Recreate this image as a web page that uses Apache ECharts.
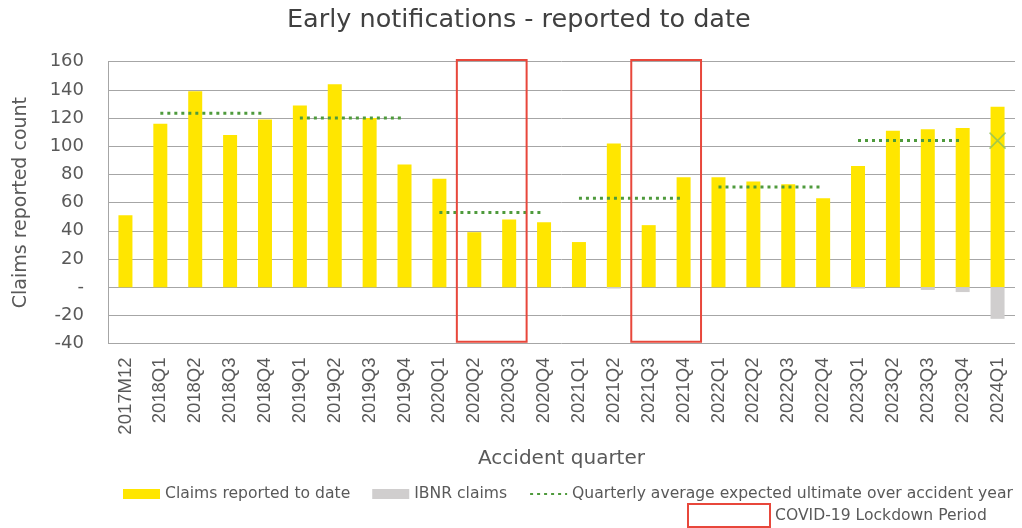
<!DOCTYPE html>
<html>
<head>
<meta charset="utf-8">
<script src="https://cdn.jsdelivr.net/npm/echarts@6/dist/echarts.min.js"></script>
<style>
  html, body { margin: 0; padding: 0; background: #fff; }
  #chart { width: 1022px; height: 528px; }
</style>
</head>
<body>
<div id="chart"></div>
<script>
const quarters = ['2017M12',
  '2018Q1', '2018Q2', '2018Q3', '2018Q4',
  '2019Q1', '2019Q2', '2019Q3', '2019Q4',
  '2020Q1', '2020Q2', '2020Q3', '2020Q4',
  '2021Q1', '2021Q2', '2021Q3', '2021Q4',
  '2022Q1', '2022Q2', '2022Q3', '2022Q4',
  '2023Q1', '2023Q2', '2023Q3', '2023Q4',
  '2024Q1'];
const claimsReported = [51, 116, 139, 108, 119, 129, 144, 120, 87, 77, 39, 48, 46,
  32, 102, 44, 78, 78, 75, 73, 63, 86, 111, 112, 113, 128];
const ibnrClaims = [0, 0, 0, 0, 0, 0, 0, 0, 0, 0, 0, 0, 0,
  0, -1, 0, 0, 0, 0, 0, 0, -1, 0, -2, -3.5, -22.5];
// quarterly average expected ultimate, one value per accident year
const accidentYears = ['2018', '2019', '2020', '2021', '2022', '2023'];
const yearAverages = [123.5, 120, 53, 63, 71, 104];
const latestExpected = ['2024Q1', 104];
const lockdownPeriods = [['2020Q2', '2020Q3'], ['2021Q3', '2021Q4']];
const yTicks = { min: -40, max: 160, step: 20 };

const AVG_NAME = 'Quarterly average expected ultimate over accident year';
const grey = '#595959';

const avgSeries = accidentYears.map((yr, i) => ({
  name: AVG_NAME,
  type: 'line',
  symbol: 'none',
  lineStyle: { color: '#4E9A3C', width: 3, type: [3, 4] },
  itemStyle: { color: '#4E9A3C' },
  data: quarters.filter(q => q.startsWith(yr + 'Q')).map(q => [q, yearAverages[i]]),
  z: 4
}));

const chart = echarts.init(document.getElementById('chart'));
chart.setOption({
  animation: false,
  textStyle: { fontFamily: 'DejaVu Sans' },
  title: {
    text: 'Early notifications - reported to date',
    left: 282, top: 2,
    textStyle: { fontFamily: 'DejaVu Sans', fontSize: 25.5, fontWeight: 'normal', color: '#404040' }
  },
  legend: [{
    data: [{ name: 'Claims reported to date', icon: 'rect' },
      { name: 'IBNR claims', icon: 'rect' },
      { name: AVG_NAME, itemStyle: { opacity: 0 } }],
    left: 118, top: 481, width: 1000,
    itemWidth: 37, itemHeight: 10, itemGap: 22,
    textStyle: { fontFamily: 'DejaVu Sans', fontSize: 15.6, color: grey }
  }, {
    data: [{
      name: 'COVID-19 Lockdown Period', icon: 'rect',
      itemStyle: { color: 'rgba(0,0,0,0)', borderColor: '#E8473B', borderWidth: 2 }
    }],
    left: 682, top: 498,
    itemWidth: 82, itemHeight: 23,
    textStyle: { fontFamily: 'DejaVu Sans', fontSize: 15.6, color: grey }
  }],
  grid: { left: 108, right: 7, top: 61.7, bottom: 184.5, outerBoundsMode: 'none' },
  xAxis: {
    type: 'category',
    data: quarters,
    name: 'Accident quarter',
    nameLocation: 'middle',
    nameGap: 105,
    nameTextStyle: { fontSize: 20, color: grey },
    axisLine: { show: false, onZero: false },
    axisTick: { show: false },
    axisLabel: { rotate: 90, interval: 0, margin: 14, fontFamily: 'Liberation Sans', fontSize: 18.5, color: grey }
  },
  yAxis: {
    type: 'value',
    min: yTicks.min, max: yTicks.max, interval: yTicks.step,
    name: 'Claims reported count',
    nameLocation: 'middle',
    nameGap: 77,
    nameTextStyle: { fontSize: 19, color: grey },
    axisLine: { show: true, lineStyle: { color: '#a6a6a6' } },
    axisTick: { show: false },
    axisLabel: { fontSize: 18, color: grey, margin: 24,
      formatter: v => (v === 0 ? '-' : String(v)) },
    splitLine: { lineStyle: { color: '#a6a6a6', width: 1 } }
  },
  series: [{
    name: 'Claims reported to date',
    type: 'bar',
    stack: 'claims',
    barWidth: 14,
    itemStyle: { color: '#FFE600' },
    data: claimsReported,
    z: 3
  }, {
    name: 'IBNR claims',
    type: 'bar',
    stack: 'claims',
    barWidth: 14,
    itemStyle: { color: '#D0CECE' },
    data: ibnrClaims,
    z: 3
  }].concat(avgSeries, [{
    name: 'expected latest',
    type: 'scatter',
    symbol: 'path://M0,0L10,10M10,0L0,10',
    symbolSize: 16,
    itemStyle: { color: 'rgba(0,0,0,0)', borderColor: '#8DC25A', borderWidth: 1.5 },
    data: [latestExpected],
    z: 5
  }, {
    name: 'COVID-19 Lockdown Period',
    type: 'custom',
    clip: false,
    encode: { x: [0, 1], y: [2, 3] },
    data: lockdownPeriods.map(p => [p[0], p[1], 161.2, -38.8]),
    renderItem: function (params, api) {
      const a = api.coord([api.value(0), api.value(2)]);
      const b = api.coord([api.value(1), api.value(3)]);
      const bw = api.size([1, 0])[0];
      return {
        type: 'rect',
        shape: { x: a[0] - bw / 2, y: a[1], width: b[0] - a[0] + bw, height: b[1] - a[1] },
        style: { fill: 'none', stroke: '#E8473B', lineWidth: 2 }
      };
    },
    z: 6
  }])
});
</script>
</body>
</html>
